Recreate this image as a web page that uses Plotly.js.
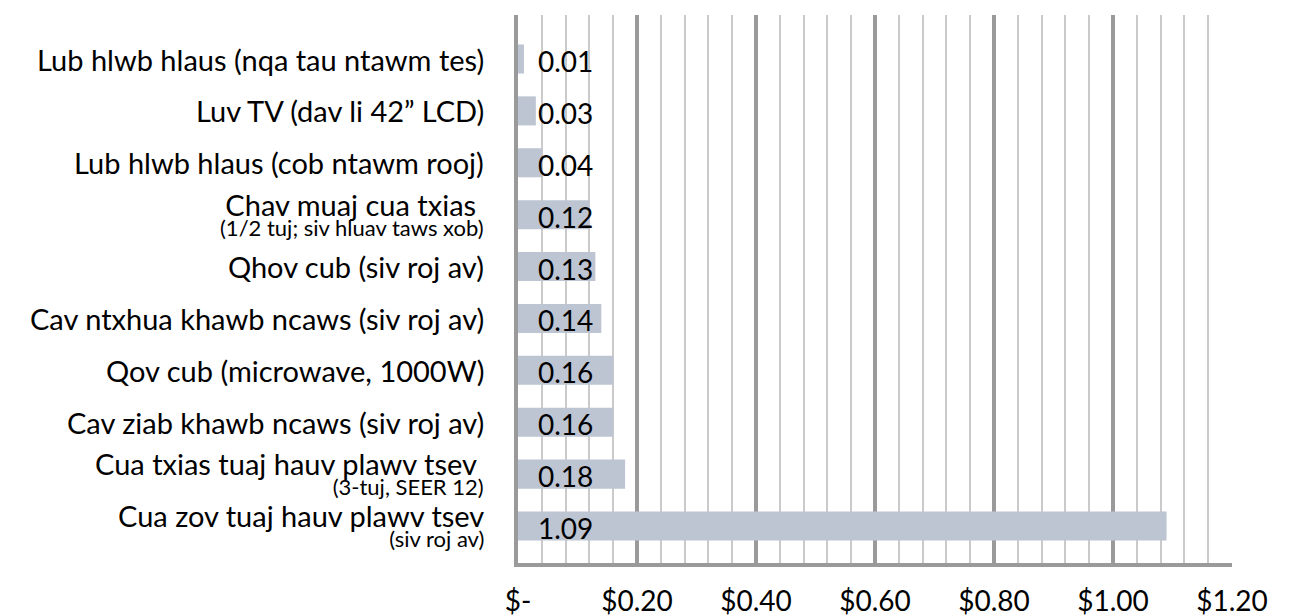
<!DOCTYPE html>
<html>
<head>
<meta charset="utf-8">
<script src="https://cdn.plot.ly/plotly-3.0.1.min.js"></script>
<style>html,body{margin:0;padding:0;background:#fff;}#chart{width:1304px;height:616px;}</style>
</head>
<body>
<div id="chart"></div>
<script>
// categories top to bottom
const categories = [
  "Lub hlwb hlaus (nqa tau ntawm tes)",
  "Luv TV (dav li 42\u201d LCD)",
  "Lub hlwb hlaus (cob ntawm rooj)",
  "Chav muaj cua txias ",
  "Qhov cub (siv roj av)",
  "Cav ntxhua khawb ncaws (siv roj av)",
  "Qov cub (microwave, 1000W)",
  "Cav ziab khawb ncaws (siv roj av)",
  "Cua txias tuaj hauv plawv tsev ",
  "Cua zov tuaj hauv plawv tsev"
];
const subLabels = ["", "", "", "(1/2 tuj; siv hluav taws xob)", "", "", "", "", "(3-tuj, SEER 12)", "(siv roj av)"];
const costs = [0.01, 0.03, 0.04, 0.12, 0.13, 0.14, 0.16, 0.16, 0.18, 1.09];
const xTickVals = [0, 0.2, 0.4, 0.6, 0.8, 1.0, 1.2];
const xTickText = ["$-", "$0.20", "$0.40", "$0.60", "$0.80", "$1.00", "$1.20"];

const FONT = "Lato, 'Open Sans', sans-serif";
const MAIN = 29, SUB = 22;

const trace = {
  type: "bar",
  orientation: "h",
  x: costs,
  y: categories,
  width: 0.56,
  marker: {color: "#bdc4d2"},
  hoverinfo: "skip"
};

// value labels at the base of each bar
const valueAnns = costs.map((v, i) => ({
  x: 0, y: categories[i], xref: "x", yref: "y",
  text: v.toFixed(2), showarrow: false,
  xanchor: "left", yanchor: "middle", xshift: 18, yshift: -2,
  font: {family: FONT, size: 28, color: "#000"}
}));

// category labels (two sizes for the lines with a sub-label)
const catAnns = categories.map((c, i) => {
  const two = subLabels[i] !== "";
  return {
    x: 0, y: c, xref: "x", yref: "y",
    text: two
      ? "<span style='font-size:" + MAIN + "px'>" + c.replace(/ $/, "\u00a0") + "</span><br><span style='font-size:" + SUB + "px'>" + subLabels[i] + "</span>"
      : c,
    showarrow: false, align: "right",
    xanchor: "right", yanchor: "middle", xshift: -32, yshift: two ? 1 : 0,
    font: {family: FONT, size: two ? 15 : MAIN, color: "#000"}
  };
});

const layout = {
  width: 1304, height: 616,
  margin: {l: 518, r: 72, t: 15, b: 53},
  paper_bgcolor: "#fff", plot_bgcolor: "#fff",
  showlegend: false,
  font: {family: FONT, size: 28, color: "#000"},
  xaxis: {
    range: [0, 1.2],
    tickvals: xTickVals, ticktext: xTickText,
    showgrid: true, gridcolor: "#9a9a9a", gridwidth: 4,
    minor: {dtick: 0.04, showgrid: true, gridcolor: "#cacaca", gridwidth: 2},
    zeroline: false,
    showline: true, linecolor: "#9a9a9a", linewidth: 4,
    ticks: "", ticklabelstandoff: 10,
    tickfont: {family: FONT, size: 28, color: "#000"},
    fixedrange: true
  },
  yaxis: {
    type: "category",
    categoryorder: "array", categoryarray: categories,
    range: [9.713, -0.848],
    showticklabels: false,
    showgrid: false, zeroline: false,
    showline: true, linecolor: "#9a9a9a", linewidth: 4,
    ticks: "",
    fixedrange: true
  },
  annotations: valueAnns.concat(catAnns),
  bargap: 0.44
};

Plotly.newPlot("chart", [trace], layout, {displayModeBar: false, staticPlot: true});
</script>
</body>
</html>
